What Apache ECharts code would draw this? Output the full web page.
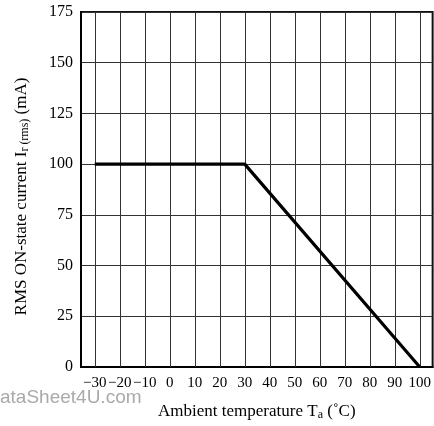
<!DOCTYPE html>
<html>
<head>
<meta charset="utf-8">
<script src="https://cdn.jsdelivr.net/npm/echarts@6/dist/echarts.min.js"></script>
<style>
  html, body { margin: 0; padding: 0; background: #fff; }
  #chart { width: 434px; height: 426px; }
</style>
</head>
<body>
<div id="chart"></div>
<script>
// derating curve: temperature (°C) vs current (mA)
const temps = [-30, 30, 100]
const currents = [100, 100, 0]
const xTicks = [-30, -20, -10, 0, 10, 20, 30, 40, 50, 60, 70, 80, 90, 100]

const serif = 'Liberation Serif, Times New Roman, serif'
const myChart = echarts.init(document.getElementById('chart'))

const option = {
  animation: false,
  grid: {
    left: 81,
    right: -2, // right frame is cut off in the original scan
    top: 12,
    bottom: 59,
    show: true,
    borderColor: '#111',
    borderWidth: 2
  },
  graphic: [
    {
      type: 'text',
      left: 0,
      top: 388,
      style: {
        text: 'ataSheet4U.com',
        font: '19px Liberation Sans, Arial, sans-serif',
        fill: '#aaa'
      }
    }
  ],
  xAxis: {
    type: 'value',
    min: -35.5,
    max: 105.15,
    name: 'Ambient temperature T{sub|a} (˚C)',
    nameLocation: 'middle',
    nameGap: 35,
    nameTextStyle: {
      fontFamily: serif,
      fontSize: 17,
      color: '#000',
      rich: {
        sub: { fontFamily: serif, fontSize: 12, color: '#000', padding: [7, 0, 0, 0] }
      }
    },
    axisLine: { show: true, onZero: false, lineStyle: { color: '#000', width: 2 } },
    axisTick: { show: false },
    axisLabel: {
      customValues: xTicks,
      fontFamily: serif,
      fontSize: 15,
      color: '#000',
      margin: 9,
      formatter: v => (v < 0 ? '\u2212' + Math.abs(v) : String(v))
    },
    splitLine: { show: false }
  },
  yAxis: {
    type: 'value',
    min: 0,
    max: 175,
    interval: 25,
    name: 'RMS ON-state current I{sub|r (rms)} (mA)',
    nameLocation: 'middle',
    nameGap: 50,
    nameTextStyle: {
      fontFamily: serif,
      fontSize: 17,
      color: '#000',
      padding: [0, 14, 0, 0],
      rich: {
        sub: { fontFamily: serif, fontSize: 12, color: '#000', padding: [7, 0, 0, 0] }
      }
    },
    axisLine: { show: true, onZero: false, lineStyle: { color: '#000', width: 2 } },
    axisTick: { show: false },
    axisLabel: {
      fontFamily: serif,
      fontSize: 16,
      color: '#000',
      margin: 8
    },
    splitLine: { show: true, lineStyle: { color: '#333', width: 1 } }
  },
  series: [
    {
      // vertical grid lines at each labelled temperature
      type: 'line',
      data: [],
      silent: true,
      markLine: {
        silent: true,
        symbol: 'none',
        label: { show: false },
        lineStyle: { color: '#333', width: 1, type: 'solid' },
        data: xTicks.map(v => ({ xAxis: v }))
      }
    },
    {
      type: 'line',
      data: temps.map((t, i) => [t, currents[i]]),
      symbol: 'none',
      lineStyle: { color: '#000', width: 3.2 },
      z: 5
    }
  ]
}

option && myChart.setOption(option)
</script>
</body>
</html>
